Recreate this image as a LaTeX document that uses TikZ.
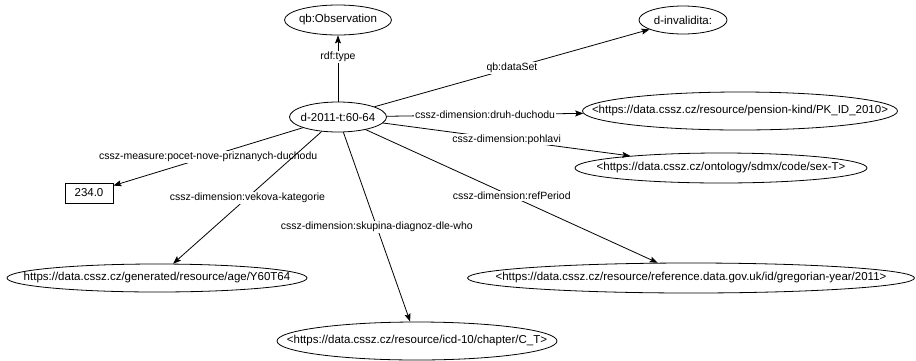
\documentclass[tikz,border=0pt]{standalone}
\usepackage{fontspec}
\setmainfont{Liberation Sans}
\usetikzlibrary{shapes.geometric}
\usetikzlibrary{arrows.meta}

\begin{document}
\begin{tikzpicture}[x=1pt,y=-1pt,
	res/.style={ellipse,draw,line width=0.8pt,inner xsep=-200pt,inner ysep=0pt,
		font=\fontsize{11.5}{13}\selectfont},
	lit/.style={rectangle,draw,line width=0.8pt,minimum width=48pt,minimum height=20pt,
		inner sep=0pt,font=\fontsize{11.5}{13}\selectfont},
	prop/.style={fill=white,inner sep=1pt,font=\fontsize{10.5}{12}\selectfont},
	every edge/.style={draw,line width=0.8pt,-{Stealth[length=8pt,width=6pt,inset=1.5pt]}}]
\useasboundingbox (0,0) rectangle (916,360);
% subject and objects
\node[res,minimum width=97pt,minimum height=30pt] (obs2011) at (338,117) {d-2011-t:60-64};
\node[res,minimum width=107pt,minimum height=30pt] (qbobs) at (338,20) {qb:Observation};
\node[res,minimum width=88pt,minimum height=28pt] (inval) at (683,20) {d-invalidita:};
\node[res,minimum width=315pt,minimum height=38pt] (pension) at (740,111) {<https://data.cssz.cz/resource/pension-kind/PK\_ID\_2010>};
\node[res,minimum width=292pt,minimum height=30pt] (sex) at (721,168) {<https://data.cssz.cz/ontology/sdmx/code/sex-T>};
\node[lit] (value) at (89,193) {234.0};
\node[res,minimum width=300pt,minimum height=28pt] (age) at (157,278) {https://data.cssz.cz/generated/resource/age/Y60T64};
\node[res,minimum width=280pt,minimum height=38pt] (icd) at (417,341) {<https://data.cssz.cz/resource/icd-10/chapter/C\_T>};
\node[res,minimum width=447pt,minimum height=30pt] (year) at (691,278) {<https://data.cssz.cz/resource/reference.data.gov.uk/id/gregorian-year/2011>};
% properties
\path (obs2011) edge node[prop,pos=0.67] {rdf:type} (qbobs)
	(obs2011) edge node[prop] {qb:dataSet} (inval)
	(obs2011) edge node[prop] {cssz-dimension:druh-duchodu} (pension)
	(obs2011) edge node[prop] {cssz-dimension:pohlavi} (sex)
	(obs2011) edge node[prop] {cssz-measure:pocet-nove-priznanych-duchodu} (value)
	(obs2011) edge node[prop] {cssz-dimension:vekova-kategorie} (age)
	(obs2011) edge node[prop] {cssz-dimension:skupina-diagnoz-dle-who} (icd)
	(obs2011) edge node[prop] {cssz-dimension:refPeriod} (year);
\end{tikzpicture}
\end{document}
